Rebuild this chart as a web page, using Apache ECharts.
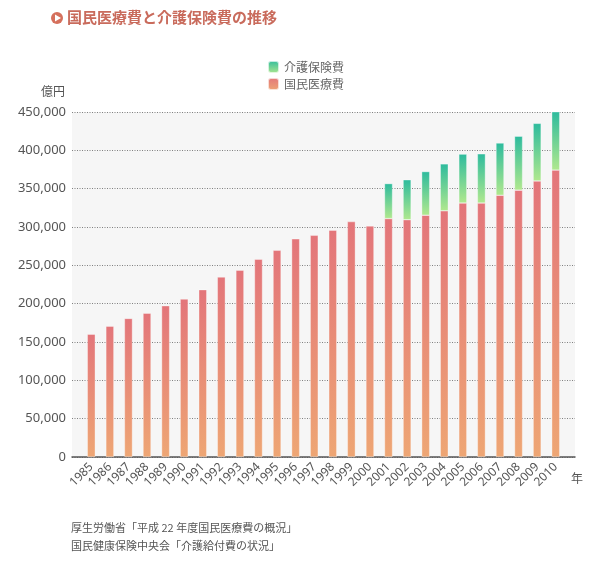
<!DOCTYPE html>
<html>
<head>
<meta charset="utf-8">
<script src="https://cdn.jsdelivr.net/npm/echarts@6/dist/echarts.min.js"></script>
<style>
  html, body { margin: 0; padding: 0; background: #fff; }
  #chart { width: 602px; height: 584px; }
</style>
</head>
<body>
<div id="chart"></div>
<script>
var years = ['1985', '1986', '1987', '1988', '1989', '1990', '1991', '1992', '1993',
  '1994', '1995', '1996', '1997', '1998', '1999', '2000', '2001', '2002', '2003',
  '2004', '2005', '2006', '2007', '2008', '2009', '2010'];

// 億円
var medical = [160159, 170690, 180759, 187554, 197290, 206074, 218260, 234784, 243631,
  257908, 269577, 284542, 289149, 295823, 307019, 301418, 310998, 309507, 315375,
  321111, 331289, 331276, 341360, 348084, 360067, 374202];

var care = [null, null, null, null, null, null, null, null, null, null, null, null,
  null, null, null, null, 45600, 52100, 56900, 61200, 63800, 64200, 68200, 70300,
  75100, 78900];

var yTicks = [0, 50000, 100000, 150000, 200000, 250000, 300000, 350000, 400000, 450000];

var textColor = '#555';
var jpFont = '"Noto Sans CJK JP", sans-serif';

function vGradient(top, bottom) {
  return new echarts.graphic.LinearGradient(0, 0, 0, 1, [
    {offset: 0, color: top},
    {offset: 1, color: bottom}
  ]);
}

function formatNum(v) {
  return String(v).replace(/\B(?=(\d{3})+(?!\d))/g, ',');
}

var chart = echarts.init(document.getElementById('chart'));

var option = {
  animation: false,
  textStyle: {fontFamily: jpFont},
  legend: {
    orient: 'vertical',
    left: 262,
    top: 55,
    itemWidth: 11,
    itemHeight: 12,
    itemGap: 3,
    data: ['介護保険費', '国民医療費'],
    textStyle: {color: '#666', fontSize: 12, fontFamily: jpFont}
  },
  graphic: [
    {type: 'circle', shape: {cx: 57, cy: 18, r: 6}, style: {fill: '#d5705c'}},
    {type: 'polygon', shape: {points: [[55, 14.5], [55, 21.5], [61, 18]]}, style: {fill: '#fff'}},
    {type: 'text', left: 67, top: 10,
      style: {text: '国民医療費と介護保険費の推移', fill: '#c96b5c', font: 'bold 15px ' + jpFont}},
    {type: 'text', left: 41, top: 85,
      style: {text: '億円', fill: textColor, font: '12px ' + jpFont}},
    {type: 'text', left: 571, top: 472,
      style: {text: '年', fill: textColor, font: '12px ' + jpFont}},
    {type: 'text', left: 71, top: 522,
      style: {text: '厚生労働省「平成 22 年度国民医療費の概況」', fill: textColor, font: '11px ' + jpFont}},
    {type: 'text', left: 71, top: 540,
      style: {text: '国民健康保険中央会「介護給付費の状況」', fill: textColor, font: '11px ' + jpFont}}
  ],
  grid: [
    // background, grid lines and base line
    {left: 72, right: 27, top: 112, bottom: 127, show: true,
      backgroundColor: '#f6f6f6', borderWidth: 0},
    // bars
    {left: 82, right: 37, top: 112, bottom: 127}
  ],
  xAxis: [
    {gridIndex: 0, type: 'value', min: 0, max: 1,
      axisLine: {show: true, onZero: false, lineStyle: {color: '#555', width: 1.5}},
      axisTick: {show: false}, axisLabel: {show: false}, splitLine: {show: false}},
    {gridIndex: 1, type: 'category', data: years,
      axisLine: {show: false}, axisTick: {show: false},
      axisLabel: {interval: 0, rotate: 45, margin: 8, fontSize: 12, color: textColor,
        fontFamily: 'Noto Sans'}}
  ],
  yAxis: [
    {gridIndex: 0, type: 'value', min: 0, max: 450000, interval: 50000,
      axisLine: {show: false}, axisTick: {show: false},
      axisLabel: {margin: 6, fontSize: 13, color: textColor, fontFamily: 'Noto Sans',
        formatter: function (v) { return yTicks.indexOf(v) >= 0 ? formatNum(v) : ''; }},
      splitLine: {lineStyle: {color: '#808080', type: [1, 1.5], width: 1}}},
    {gridIndex: 1, type: 'value', min: 0, max: 450000, interval: 50000, show: false,
      splitLine: {show: false}}
  ],
  series: [
    {name: '国民医療費', type: 'bar', stack: 'total', xAxisIndex: 1, yAxisIndex: 1,
      barWidth: 8, data: medical,
      itemStyle: {color: vGradient('#e3757a', '#eea674'),
        borderColor: 'rgba(255,255,255,0.7)', borderWidth: 0.5}},
    {name: '介護保険費', type: 'bar', stack: 'total', xAxisIndex: 1, yAxisIndex: 1,
      barWidth: 8, data: care,
      itemStyle: {color: vGradient('#2dbb9d', '#b0e88e'),
        borderColor: 'rgba(255,255,255,0.7)', borderWidth: 0.5}}
  ]
};

chart.setOption(option);
</script>
</body>
</html>
